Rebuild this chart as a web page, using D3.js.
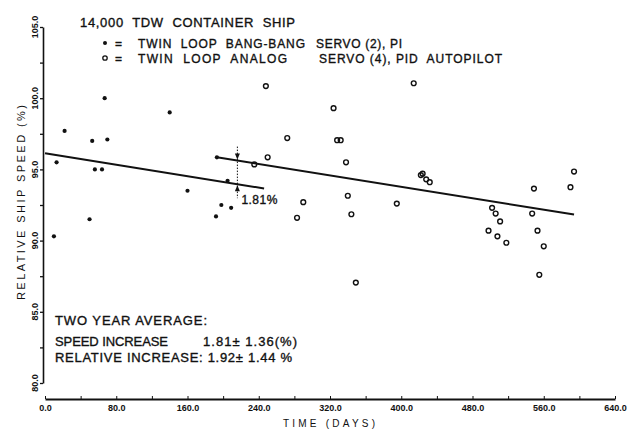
<!DOCTYPE html>
<html>
<head>
<meta charset="utf-8">
<script src="https://cdn.jsdelivr.net/npm/d3@7"></script>
<style>
  body { margin: 0; background: #fff; }
  text { font-family: 'Liberation Sans', Arial, sans-serif; fill: #111; white-space: pre; }
  .heavy { stroke: #111; stroke-width: 0.35px; }
</style>
</head>
<body>
<div class="chart"></div>
<script>
const width = 643
const height = 430

// twin loop bang-bang servo (2), PI  -> filled dots
const piDays = [67, 140, 22, 53, 70, 13, 56, 64, 160, 50, 10, 193, 205, 198, 209, 192]
const piSpeed = [100.0, 99.0, 97.7, 97.0, 97.1, 95.5, 95.0, 95.0, 93.5, 91.5, 90.3, 95.85, 94.2, 92.5, 92.3, 91.7]

// twin loop analog servo (4), PID autopilot -> open circles
const pidDays = [248, 272, 414, 324, 328, 332, 235, 250, 290, 283, 338, 340, 344, 349, 395,
  422, 424, 428, 432, 502, 506, 511, 498, 508, 518, 549, 547, 553, 560, 555, 590, 594]
const pidSpeed = [100.85, 97.2, 101.05, 99.3, 97.05, 97.05, 95.35, 95.85, 92.7, 91.6, 95.5, 93.15, 91.85, 87.05, 92.6,
  94.6, 94.7, 94.3, 94.1, 92.3, 91.9, 91.35, 90.7, 90.3, 89.85, 93.65, 91.9, 90.7, 89.6, 87.6, 93.75, 94.85]

// fitted lines (end points)
const piLineDays = [0, 246]
const piLineSpeed = [96.13, 93.66]
const pidLineDays = [193, 594]
const pidLineSpeed = [95.85, 91.83]

const markDay = 216
const yTicks = [80, 85, 90, 95, 100, 105]

const svg = d3
  .select('.chart')
  .append('svg')
  .attr('width', width)
  .attr('height', height)

const xScale = d3.scaleLinear().domain([0, 640]).range([45, 615])
const yScale = d3.scaleLinear().domain([80, 105]).range([383, 27])

// x axis, sits a little below the bottom of the y axis
const xAxis = d3
  .axisBottom(xScale)
  .tickValues(d3.range(0, 641, 40))
  .tickSizeInner(-3)
  .tickSizeOuter(0)
  .tickPadding(6)
  .tickFormat(d => (d % 80 === 0 ? d3.format('.1f')(d) : ''))

const gx = svg.append('g').attr('transform', 'translate(0, 399)').call(xAxis)
gx.select('.domain').attr('stroke-width', 2).attr('stroke', '#111')
gx.selectAll('.tick line').attr('stroke', '#111')
gx.selectAll('.tick text')
  .style('font-size', '9px')
  .style('font-weight', 'bold')
  .attr('fill', '#111')

// y axis
const yAxis = d3
  .axisLeft(yScale)
  .tickValues(d3.range(80, 105.1, 2.5))
  .tickSizeInner(3)
  .tickSizeOuter(0)
  .tickFormat('')

const gy = svg.append('g').attr('transform', 'translate(43, 0)').call(yAxis)
gy.select('.domain').attr('stroke-width', 1.6).attr('stroke', '#111')
gy.selectAll('.tick line').attr('stroke', '#111').attr('stroke-width', 1.3)

svg
  .selectAll('.ylab')
  .data(yTicks)
  .enter()
  .append('text')
  .attr('class', 'ylab')
  .attr('transform', d => 'translate(38,' + yScale(d) + ') rotate(-90)')
  .attr('text-anchor', 'middle')
  .style('font-size', '9px')
  .style('font-weight', 'bold')
  .text(d => d3.format('.1f')(d))

// axis titles
svg
  .append('text')
  .attr('x', 283)
  .attr('y', 427)
  .attr('textLength', 92)
  .style('font-size', '10px')
  .text('TIME (DAYS)')

svg
  .append('text')
  .attr('transform', 'translate(25, 300) rotate(-90)')
  .attr('textLength', 195)
  .style('font-size', '11px')
  .text('RELATIVE SHIP SPEED (%)')

// fitted lines
const line = d3
  .line()
  .x(d => xScale(d[0]))
  .y(d => yScale(d[1]))

svg
  .append('path')
  .attr('d', line(d3.zip(piLineDays, piLineSpeed)))
  .attr('fill', 'none')
  .attr('stroke', '#111')
  .attr('stroke-width', 2)

svg
  .append('path')
  .attr('d', line(d3.zip(pidLineDays, pidLineSpeed)))
  .attr('fill', 'none')
  .attr('stroke', '#111')
  .attr('stroke-width', 2)

// points
svg
  .selectAll('.dot')
  .data(d3.zip(piDays, piSpeed))
  .enter()
  .append('circle')
  .attr('class', 'dot')
  .attr('cx', d => xScale(d[0]))
  .attr('cy', d => yScale(d[1]))
  .attr('r', 2.1)
  .attr('fill', '#111')

svg
  .selectAll('.ring')
  .data(d3.zip(pidDays, pidSpeed))
  .enter()
  .append('circle')
  .attr('class', 'ring')
  .attr('cx', d => xScale(d[0]))
  .attr('cy', d => yScale(d[1]))
  .attr('r', 2.4)
  .attr('fill', 'none')
  .attr('stroke', '#111')
  .attr('stroke-width', 1.4)

// 1.81% difference marker
const piAt = d3.scaleLinear().domain(piLineDays).range(piLineSpeed)
const pidAt = d3.scaleLinear().domain(pidLineDays).range(pidLineSpeed)
const mx = xScale(markDay)
const yTop = yScale(pidAt(markDay))
const yBot = yScale(piAt(markDay))

svg
  .append('line')
  .attr('x1', mx)
  .attr('x2', mx)
  .attr('y1', yTop - 14)
  .attr('y2', yBot + 14)
  .attr('stroke', '#111')
  .attr('stroke-width', 1)
  .attr('stroke-dasharray', '1.5,1.5')

svg
  .append('path')
  .attr('d', `M${mx},${yTop - 1} l-2.5,-6 l5,0 z`)
  .attr('fill', '#111')
svg
  .append('path')
  .attr('d', `M${mx},${yBot + 1} l-2.5,6 l5,0 z`)
  .attr('fill', '#111')

svg
  .append('text')
  .attr('class', 'heavy')
  .attr('x', mx + 4)
  .attr('y', yBot + 20)
  .attr('textLength', 36)
  .style('font-size', '12px')
  .text('1.81%')

// legend block
svg
  .append('text')
  .attr('class', 'heavy')
  .attr('x', 80)
  .attr('y', 27)
  .attr('textLength', 215)
  .style('font-size', '13px')
  .text('14,000  TDW  CONTAINER  SHIP')

svg.append('circle').attr('cx', 105).attr('cy', 43).attr('r', 2).attr('fill', '#111')
svg
  .append('circle')
  .attr('cx', 105)
  .attr('cy', 58)
  .attr('r', 2.2)
  .attr('fill', 'none')
  .attr('stroke', '#111')
  .attr('stroke-width', 1.3)

const legendRows = [
  { y: 48, a: 'TWIN  LOOP  BANG-BANG', aw: 167, b: 'SERVO (2), PI', bx: 316, bw: 86 },
  { y: 63, a: 'TWIN  LOOP  ANALOG', aw: 149, b: 'SERVO (4), PID  AUTOPILOT', bx: 319, bw: 183 }
]
legendRows.forEach(r => {
  svg.append('text').attr('class', 'heavy').attr('x', 115).attr('y', r.y).style('font-size', '12px').text('=')
  svg
    .append('text')
    .attr('class', 'heavy')
    .attr('x', 138)
    .attr('y', r.y)
    .attr('textLength', r.aw)
    .style('font-size', '12px')
    .text(r.a)
  svg
    .append('text')
    .attr('class', 'heavy')
    .attr('x', r.bx)
    .attr('y', r.y)
    .attr('textLength', r.bw)
    .style('font-size', '12px')
    .text(r.b)
})

// summary text
const summary = [
  { x: 55, y: 325, w: 152, t: 'TWO YEAR AVERAGE:' },
  { x: 55, y: 346, w: 113, t: 'SPEED INCREASE' },
  { x: 203, y: 346, w: 94, t: '1.81± 1.36(%)' },
  { x: 55, y: 362, w: 237, t: 'RELATIVE INCREASE: 1.92± 1.44 %' }
]
summary.forEach(s => {
  svg
    .append('text')
    .attr('class', 'heavy')
    .attr('x', s.x)
    .attr('y', s.y)
    .attr('textLength', s.w)
    .style('font-size', '13px')
    .text(s.t)
})
</script>
</body>
</html>
